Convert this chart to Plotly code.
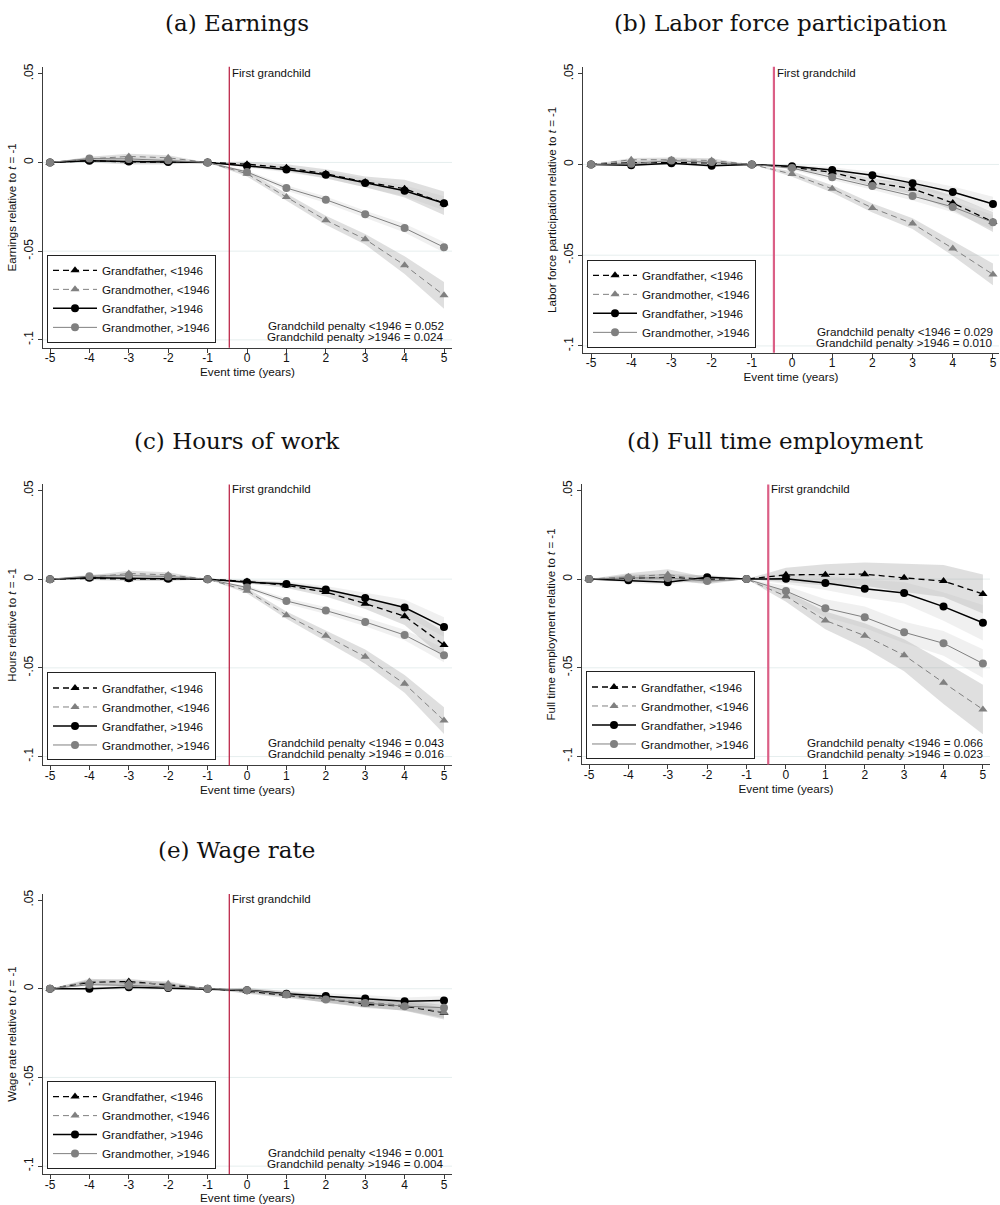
import numpy as np
import plotly.graph_objects as go

# ---------------- data ----------------
T = [-5, -4, -3, -2, -1, 0, 1, 2, 3, 4, 5]
X_TICKS = [-5, -4, -3, -2, -1, 0, 1, 2, 3, 4, 5]
Y_TICKS = [-0.1, -0.05, 0, 0.05]
Y_TICK_TEXT = ["-.1", "-.05", "0", ".05"]
GRID_VALUES = [-0.1, -0.05, 0]
EVENT_LINE_X = -0.45

SERIES_NAMES = ["Grandfather, <1946", "Grandmother, <1946", "Grandfather, >1946", "Grandmother, >1946"]

# (a) Earnings
EARN_GF_OLD = [0, 0.001, 0.0003, 0.0003, 0, -0.001, -0.003, -0.0064, -0.011, -0.0148, -0.023]
EARN_GF_OLD_CI = [0, 0.001, 0.0015, 0.0015, 0, 0.0015, 0.002, 0.0025, 0.003, 0.005, 0.0066]
EARN_GM_OLD = [0, 0.002, 0.0034, 0.0026, 0, -0.0064, -0.0195, -0.0326, -0.0433, -0.0579, -0.0749]
EARN_GM_OLD_CI = [0, 0.0012, 0.0015, 0.0015, 0, 0.0015, 0.002, 0.0025, 0.003, 0.005, 0.0075]
EARN_GF_NEW = [0, 0.001, 0.0005, 0.0002, 0, -0.002, -0.004, -0.007, -0.0116, -0.016, -0.023]
EARN_GF_NEW_CI = [0, 0.0008, 0.001, 0.001, 0, 0.001, 0.0015, 0.002, 0.0025, 0.003, 0.004]
EARN_GM_NEW = [0, 0.0022, 0.002, 0.0012, 0, -0.0054, -0.0144, -0.021, -0.0292, -0.037, -0.0478]
EARN_GM_NEW_CI = [0, 0.001, 0.001, 0.001, 0, 0.001, 0.0015, 0.0018, 0.002, 0.0025, 0.003]

# (b) Labor force participation
LFP_GF_OLD = [0, 0.001, 0.001, 0.0008, 0, -0.0015, -0.0044, -0.0099, -0.0134, -0.0212, -0.0317]
LFP_GF_OLD_CI = [0, 0.001, 0.001, 0.001, 0, 0.001, 0.0015, 0.002, 0.003, 0.004, 0.0055]
LFP_GM_OLD = [0, 0.0026, 0.0026, 0.0022, 0, -0.0053, -0.0134, -0.024, -0.0326, -0.0463, -0.0606]
LFP_GM_OLD_CI = [0, 0.001, 0.0012, 0.0012, 0, 0.0015, 0.002, 0.0025, 0.003, 0.004, 0.006]
LFP_GF_NEW = [0, -0.0004, 0.0007, -0.0007, 0, -0.001, -0.0031, -0.006, -0.0103, -0.0152, -0.0218]
LFP_GF_NEW_CI = [0, 0.0008, 0.0008, 0.0008, 0, 0.001, 0.0015, 0.002, 0.0025, 0.003, 0.004]
LFP_GM_NEW = [0, 0.0004, 0.0022, 0.0013, 0, -0.002, -0.0071, -0.0119, -0.0174, -0.0234, -0.0319]
LFP_GM_NEW_CI = [0, 0.001, 0.001, 0.001, 0, 0.001, 0.0015, 0.002, 0.0025, 0.003, 0.004]

# (c) Hours of work
HRS_GF_OLD = [0, 0.0005, 0, 0, 0, -0.0013, -0.0035, -0.0073, -0.0138, -0.0209, -0.0371]
HRS_GF_OLD_CI = [0, 0.001, 0.001, 0.001, 0, 0.001, 0.0015, 0.0025, 0.003, 0.005, 0.0075]
HRS_GM_OLD = [0, 0.001, 0.0032, 0.0024, 0, -0.0065, -0.0203, -0.0319, -0.0437, -0.059, -0.0797]
HRS_GM_OLD_CI = [0, 0.001, 0.0015, 0.0015, 0, 0.0015, 0.002, 0.003, 0.004, 0.005, 0.0075]
HRS_GF_NEW = [0, 0.0008, 0.0005, 0.0002, 0, -0.0017, -0.0028, -0.0058, -0.0106, -0.016, -0.027]
HRS_GF_NEW_CI = [0, 0.001, 0.001, 0.001, 0, 0.001, 0.0015, 0.002, 0.003, 0.0045, 0.0055]
HRS_GM_NEW = [0, 0.0017, 0.002, 0.0015, 0, -0.0047, -0.0123, -0.0177, -0.0241, -0.0315, -0.0429]
HRS_GM_NEW_CI = [0, 0.001, 0.001, 0.001, 0, 0.001, 0.0015, 0.002, 0.0025, 0.003, 0.004]

# (d) Full time employment
FT_GF_OLD = [0, 0.0005, 0.001, 0, 0, 0.0024, 0.0024, 0.0028, 0.0007, -0.0011, -0.0084]
FT_GF_OLD_CI = [0, 0.002, 0.002, 0.002, 0, 0.004, 0.006, 0.0065, 0.008, 0.009, 0.011]
FT_GM_OLD = [0, 0.0013, 0.0026, -0.0009, 0, -0.0097, -0.0233, -0.0319, -0.0429, -0.0584, -0.0735]
FT_GM_OLD_CI = [0, 0.002, 0.003, 0.002, 0, 0.003, 0.005, 0.007, 0.009, 0.012, 0.014]
FT_GF_NEW = [0, -0.0007, -0.0017, 0.0011, 0, 0.0002, -0.0022, -0.0054, -0.0078, -0.0155, -0.0246]
FT_GF_NEW_CI = [0, 0.0015, 0.0015, 0.0015, 0, 0.003, 0.004, 0.005, 0.006, 0.008, 0.01]
FT_GM_NEW = [0, 0.0007, 0.0006, -0.0011, 0, -0.0067, -0.0164, -0.0215, -0.030, -0.0362, -0.0476]
FT_GM_NEW_CI = [0, 0.0015, 0.0015, 0.0015, 0, 0.003, 0.005, 0.006, 0.006, 0.007, 0.008]

# (e) Wage rate
WAGE_GF_OLD = [0, 0.0036, 0.0041, 0.0019, 0, -0.0013, -0.0038, -0.0056, -0.0088, -0.0098, -0.0135]
WAGE_GF_OLD_CI = [0, 0.0015, 0.0015, 0.0015, 0, 0.0015, 0.0015, 0.002, 0.002, 0.0025, 0.003]
WAGE_GM_OLD = [0, 0.0041, 0.0032, 0.0028, 0, -0.001, -0.0028, -0.006, -0.0075, -0.0094, -0.0133]
WAGE_GM_OLD_CI = [0, 0.0015, 0.0015, 0.0015, 0, 0.0015, 0.0015, 0.002, 0.0025, 0.003, 0.004]
WAGE_GF_NEW = [0, 0, 0.0008, 0.0004, 0, -0.0008, -0.0028, -0.0041, -0.0055, -0.007, -0.0066]
WAGE_GF_NEW_CI = [0, 0.001, 0.001, 0.001, 0, 0.001, 0.0015, 0.0015, 0.002, 0.002, 0.0025]
WAGE_GM_NEW = [0, 0.0023, 0.0019, 0.0009, 0, -0.0008, -0.0032, -0.006, -0.0081, -0.0098, -0.0107]
WAGE_GM_NEW_CI = [0, 0.001, 0.001, 0.001, 0, 0.001, 0.0015, 0.0015, 0.002, 0.0025, 0.003]

PANEL_TITLES = ["(a) Earnings", "(b) Labor force participation", "(c) Hours of work",
                "(d) Full time employment", "(e) Wage rate"]
Y_TITLES = ["Earnings relative to <i>t</i> = -1",
            "Labor force participation relative to <i>t</i> = -1",
            "Hours relative to <i>t</i> = -1",
            "Full time employment relative to <i>t</i> = -1",
            "Wage rate relative to <i>t</i> = -1"]
PENALTY_OLD = ["0.052", "0.029", "0.043", "0.066", "0.001"]
PENALTY_NEW = ["0.024", "0.010", "0.016", "0.023", "0.004"]

PANEL_DATA = [
    [(EARN_GF_OLD, EARN_GF_OLD_CI), (EARN_GM_OLD, EARN_GM_OLD_CI), (EARN_GF_NEW, EARN_GF_NEW_CI), (EARN_GM_NEW, EARN_GM_NEW_CI)],
    [(LFP_GF_OLD, LFP_GF_OLD_CI), (LFP_GM_OLD, LFP_GM_OLD_CI), (LFP_GF_NEW, LFP_GF_NEW_CI), (LFP_GM_NEW, LFP_GM_NEW_CI)],
    [(HRS_GF_OLD, HRS_GF_OLD_CI), (HRS_GM_OLD, HRS_GM_OLD_CI), (HRS_GF_NEW, HRS_GF_NEW_CI), (HRS_GM_NEW, HRS_GM_NEW_CI)],
    [(FT_GF_OLD, FT_GF_OLD_CI), (FT_GM_OLD, FT_GM_OLD_CI), (FT_GF_NEW, FT_GF_NEW_CI), (FT_GM_NEW, FT_GM_NEW_CI)],
    [(WAGE_GF_OLD, WAGE_GF_OLD_CI), (WAGE_GM_OLD, WAGE_GM_OLD_CI), (WAGE_GF_NEW, WAGE_GF_NEW_CI), (WAGE_GM_NEW, WAGE_GM_NEW_CI)],
]

# ---------------- layout / style ----------------
W, H = 1000, 1205
# pixel boxes: left, right, top, bottom ; axis ranges ; title y ; vline style
PANELS = [
    dict(box=(43, 452, 63, 345), xr=(-5.178, 5.203), yr=(-0.1045, 0.0539), ty=19, vcol="#b8173c", vw=1.2),
    dict(box=(583, 999, 63, 350), xr=(-5.2, 5.15), yr=(-0.1038, 0.0538), ty=19, vcol="#db5f86", vw=2.2),
    dict(box=(43, 452, 482, 764), xr=(-5.178, 5.203), yr=(-0.105, 0.0534), ty=438, vcol="#b8173c", vw=1.2),
    dict(box=(582, 990, 482, 763), xr=(-5.178, 5.18), yr=(-0.1045, 0.0534), ty=438, vcol="#db5f86", vw=2.2),
    dict(box=(43, 452, 893, 1174), xr=(-5.178, 5.203), yr=(-0.1045, 0.0534), ty=849, vcol="#b8173c", vw=1.2),
]
TITLE_SHIFT = -11

STYLES = [
    dict(color="#000000", dash="6px,4px", width=1.3, symbol="triangle-up", band="rgba(150,150,150,0.3)"),
    dict(color="#808080", dash="6px,4px", width=1.0, symbol="triangle-up", band="rgba(150,150,150,0.3)"),
    dict(color="#000000", dash="solid", width=1.5, symbol="circle", band="rgba(185,185,185,0.22)"),
    dict(color="#808080", dash="solid", width=1.0, symbol="circle", band="rgba(185,185,185,0.22)"),
]

SANS = "Liberation Sans, Arial, sans-serif"
SERIF = "DejaVu Serif, serif"
AXC = "#3c3c3c"

fig = go.Figure()
layout = dict(width=W, height=H, margin=dict(l=0, r=0, t=0, b=0),
              paper_bgcolor="white", plot_bgcolor="white", showlegend=True)
annotations = []
shapes = []
t_arr = np.array(T)

for i, (pan, data) in enumerate(zip(PANELS, PANEL_DATA)):
    n = "" if i == 0 else str(i + 1)
    xa, ya = "x" + n, "y" + n
    leg = "legend" + n
    l, r, t, b = pan["box"]
    layout["xaxis" + n] = dict(
        domain=[l / W, r / W], range=list(pan["xr"]), anchor=ya,
        tickvals=X_TICKS, ticktext=[str(v) for v in X_TICKS],
        ticks="outside", ticklen=4, tickcolor=AXC, tickwidth=1, ticklabelstandoff=-5,
        showline=True, linecolor=AXC, linewidth=1, showgrid=False, zeroline=False,
        tickfont=dict(family=SANS, size=12, color="#111"),
        title=dict(text="Event time (years)", font=dict(family=SANS, size=11.7, color="#111"), standoff=0),
        fixedrange=True)
    layout["yaxis" + n] = dict(
        domain=[1 - b / H, 1 - t / H], range=list(pan["yr"]), anchor=xa,
        tickvals=Y_TICKS, ticktext=Y_TICK_TEXT, tickangle=-90,
        ticks="outside", ticklen=4, tickcolor=AXC, tickwidth=1,
        showline=True, linecolor=AXC, linewidth=1, showgrid=False, zeroline=False,
        tickfont=dict(family=SANS, size=12, color="#111"),
        title=dict(text=Y_TITLES[i], font=dict(family=SANS, size=11.5, color="#111"), standoff=3),
        fixedrange=True)

    # grid lines
    for gv in GRID_VALUES:
        shapes.append(dict(type="line", xref=xa + " domain", yref=ya, x0=0, x1=1, y0=gv, y1=gv,
                           line=dict(color="#e6eeee", width=1), layer="below"))
    # event line
    shapes.append(dict(type="line", xref=xa, yref=ya + " domain", x0=EVENT_LINE_X, x1=EVENT_LINE_X,
                       y0=0, y1=1, line=dict(color=pan["vcol"], width=pan["vw"]), layer="above"))

    # confidence bands
    for (vals, ci), st in zip(data, STYLES):
        v = np.array(vals); c = np.array(ci)
        fig.add_trace(go.Scatter(
            x=np.concatenate([t_arr, t_arr[::-1]]),
            y=np.concatenate([v + c, (v - c)[::-1]]),
            fill="toself", fillcolor=st["band"], line=dict(width=0),
            mode="lines", hoverinfo="skip", showlegend=False, xaxis=xa, yaxis=ya))
    # lines
    for (vals, ci), st, name in zip(data, STYLES, SERIES_NAMES):
        fig.add_trace(go.Scatter(
            x=T, y=vals, name=name, mode="lines+markers",
            line=dict(color=st["color"], dash=st["dash"], width=st["width"]),
            marker=dict(symbol=st["symbol"], size=8, color=st["color"]),
            xaxis=xa, yaxis=ya, legend=leg))

    layout[leg] = dict(
        x=(l + 4) / W, y=1 - (b - 5) / H, xanchor="left", yanchor="bottom",
        bgcolor="white", bordercolor="#222", borderwidth=1,
        font=dict(family=SANS, size=11.7, color="#111"),
        tracegroupgap=0, itemwidth=44)

    # title
    annotations.append(dict(text=PANEL_TITLES[i], xref="paper", yref="paper",
                            x=((l + r) / 2 + TITLE_SHIFT) / W, y=1 - pan["ty"] / H,
                            xanchor="center", yanchor="middle",
                            showarrow=False, font=dict(family=SERIF, size=23, color="#111")))
    # event label
    annotations.append(dict(text="First grandchild", xref=xa, yref=ya, x=EVENT_LINE_X, y=0.05,
                            xanchor="left", yanchor="middle", xshift=1, yshift=1, showarrow=False,
                            font=dict(family=SANS, size=11.5, color="#111")))
    # penalty labels
    annotations.append(dict(text="Grandchild penalty <1946 = " + PENALTY_OLD[i], xref=xa, yref=ya,
                            x=5.05, y=-0.1, yshift=14, xanchor="right", yanchor="middle",
                            showarrow=False, font=dict(family=SANS, size=11.7, color="#111")))
    annotations.append(dict(text="Grandchild penalty >1946 = " + PENALTY_NEW[i], xref=xa, yref=ya,
                            x=5.05, y=-0.1, yshift=3, xanchor="right", yanchor="middle",
                            showarrow=False, font=dict(family=SANS, size=11.7, color="#111")))

layout["annotations"] = annotations
layout["shapes"] = shapes
fig.update_layout(**layout)
fig.write_html("out.html", config={"displayModeBar": False},
               post_script="document.body.style.margin='0';document.body.style.overflow='hidden';")
